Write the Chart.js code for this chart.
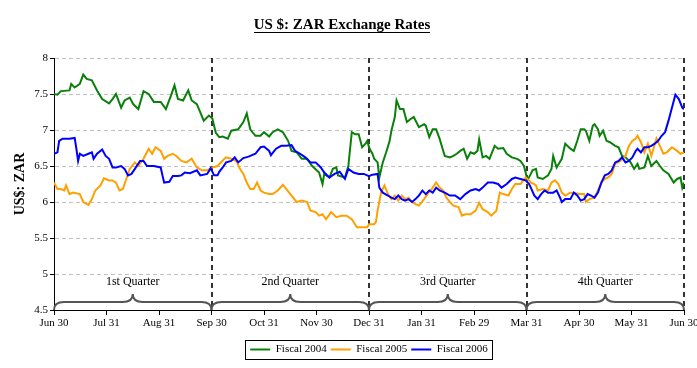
<!DOCTYPE html>
<html>
<head>
<meta charset="utf-8">
<script src="https://cdn.jsdelivr.net/npm/chart.js@4"></script>
<style>
  html, body { margin: 0; padding: 0; background: #fff; }
</style>
</head>
<body>
<canvas id="chart" width="697" height="368"></canvas>
<script>
// x positions are trading-day positions through the fiscal year (0 = Jun 30, 366 = Jun 30)
const monthTicks = [0, 30.5, 61, 91.5, 122, 152.5, 183, 213.5, 244, 274.5, 305, 335.5, 366];
const monthLabels = ['Jun 30', 'Jul 31', 'Aug 31', 'Sep 30', 'Oct 31', 'Nov 30', 'Dec 31',
  'Jan 31', 'Feb 29', 'Mar 31', 'Apr 30', 'May 31', 'Jun 30'];
const yTicks = [4.5, 5, 5.5, 6, 6.5, 7, 7.5, 8];

const quarterStart = [0, 91.5, 183, 274.5];
const quarterEnd = [91.5, 183, 274.5, 366];
const quarterLabels = ['1st Quarter', '2nd Quarter', '3rd Quarter', '4th Quarter'];

const seriesNames = ['Fiscal 2004', 'Fiscal 2005', 'Fiscal 2006'];
const seriesColors = ['#0a800a', '#ffa000', '#0000ff'];

const fy2004Day = [0, 2, 4, 9, 10, 12, 15, 17, 19, 22, 25, 28, 32, 34, 36, 39, 41, 44, 46, 49,
  52, 55, 58, 62, 65, 68, 70, 72, 75, 78, 80, 83, 87, 90, 92, 94, 96, 98, 101, 103,
  107, 110, 112, 114, 117, 120, 122, 125, 127, 130, 133, 136, 138, 141, 144, 147, 150, 154, 156, 157,
  160, 162, 164, 165, 169, 171, 173, 175, 177, 179, 181, 182, 183, 184, 185, 186, 188, 189, 191, 193,
  195, 196, 198, 199, 201, 203, 205, 207, 209, 212, 215, 216, 218, 220, 222, 224, 227, 230, 232, 234,
  236, 238, 240, 242, 244, 246, 247, 249, 251, 253, 256, 258, 261, 263, 266, 269, 271, 273, 274, 275,
  277, 278, 280, 281, 284, 287, 289, 290, 292, 295, 297, 300, 302, 304, 306, 308, 309, 311, 313, 314,
  316, 317, 319, 321, 323, 326, 328, 330, 332, 335, 337, 339, 340, 343, 345, 347, 350, 352, 354, 357,
  360, 362, 364, 365, 366];
const fy2004Rate = [7.50, 7.49, 7.54, 7.55, 7.64, 7.59, 7.64, 7.77, 7.71, 7.69, 7.55, 7.43, 7.37, 7.43, 7.50, 7.31, 7.41, 7.45, 7.36, 7.29,
  7.54, 7.50, 7.39, 7.39, 7.29, 7.48, 7.62, 7.43, 7.41, 7.55, 7.41, 7.36, 7.13, 7.20, 7.16, 6.96, 6.90, 6.91, 6.88, 6.99,
  7.01, 7.11, 7.23, 7.01, 6.92, 6.92, 6.97, 6.91, 6.97, 7.01, 6.97, 6.85, 6.71, 6.69, 6.60, 6.60, 6.50, 6.41, 6.25, 6.39,
  6.34, 6.46, 6.48, 6.37, 6.34, 6.50, 6.97, 6.94, 6.94, 6.76, 6.81, 6.85, 6.76, 6.71, 6.67, 6.60, 6.55, 6.34, 6.55, 6.69,
  6.85, 6.99, 7.18, 7.41, 7.29, 7.29, 7.11, 7.15, 7.18, 7.04, 7.08, 7.06, 6.90, 7.01, 7.01, 6.88, 6.64, 6.62, 6.64, 6.67,
  6.71, 6.74, 6.60, 6.69, 6.67, 6.71, 6.87, 6.62, 6.64, 6.60, 6.78, 6.74, 6.75, 6.67, 6.62, 6.60, 6.57, 6.50, 6.41, 6.30,
  6.39, 6.44, 6.46, 6.34, 6.32, 6.37, 6.46, 6.64, 6.48, 6.60, 6.81, 6.74, 6.71, 6.85, 7.01, 7.01, 6.99, 6.85, 7.06, 7.08,
  7.01, 6.92, 6.99, 6.85, 6.83, 6.78, 6.76, 6.64, 6.62, 6.55, 6.46, 6.53, 6.46, 6.48, 6.64, 6.50, 6.57, 6.50, 6.44, 6.39,
  6.27, 6.32, 6.34, 6.20, 6.27];

const fy2005Day = [0, 2, 4, 6, 7, 9, 11, 15, 17, 20, 22, 24, 27, 29, 32, 34, 36, 38, 40, 42,
  44, 47, 49, 52, 55, 57, 59, 62, 64, 66, 69, 71, 74, 77, 80, 83, 86, 89, 92, 95,
  99, 100, 103, 106, 108, 110, 112, 114, 116, 118, 120, 122, 125, 127, 130, 133, 135, 138, 141, 144,
  147, 149, 152, 154, 156, 158, 161, 164, 167, 170, 173, 176, 179, 182, 183, 186, 187, 188, 190, 192,
  194, 196, 198, 200, 202, 204, 206, 208, 210, 212, 215, 217, 220, 222, 224, 226, 228, 230, 232, 235,
  237, 239, 242, 245, 247, 249, 252, 254, 257, 259, 261, 264, 266, 268, 271, 274, 276, 277, 279, 280,
  281, 284, 287, 289, 291, 293, 295, 297, 300, 302, 305, 308, 309, 311, 314, 316, 318, 320, 322, 324,
  326, 329, 332, 334, 336, 338, 339, 341, 343, 345, 347, 350, 352, 354, 356, 359, 362, 364, 366];
const fy2005Rate = [6.27, 6.18, 6.18, 6.16, 6.23, 6.11, 6.13, 6.11, 6.00, 5.96, 6.04, 6.16, 6.23, 6.33, 6.30, 6.30, 6.27, 6.16, 6.18, 6.32,
  6.46, 6.55, 6.50, 6.60, 6.74, 6.67, 6.76, 6.71, 6.60, 6.64, 6.67, 6.64, 6.57, 6.55, 6.60, 6.48, 6.44, 6.44, 6.48, 6.50,
  6.60, 6.62, 6.60, 6.57, 6.46, 6.39, 6.27, 6.18, 6.18, 6.27, 6.16, 6.13, 6.11, 6.11, 6.16, 6.24, 6.18, 6.09, 6.00, 6.02,
  6.00, 5.88, 5.86, 5.81, 5.83, 5.76, 5.86, 5.79, 5.81, 5.81, 5.76, 5.65, 5.65, 5.65, 5.69, 5.69, 5.72, 5.88, 6.13, 6.23,
  6.11, 6.04, 6.09, 6.02, 6.09, 6.04, 6.06, 6.00, 5.97, 5.95, 6.04, 6.11, 6.20, 6.27, 6.20, 6.16, 6.06, 6.00, 5.95, 5.93,
  5.81, 5.83, 5.83, 5.88, 5.99, 5.90, 5.86, 5.81, 5.88, 6.13, 6.11, 6.09, 6.18, 6.25, 6.25, 6.34, 6.30, 6.27, 6.25, 6.23,
  6.16, 6.18, 6.16, 6.27, 6.30, 6.25, 6.13, 6.09, 6.13, 6.13, 6.11, 6.11, 6.00, 6.04, 6.06, 6.16, 6.27, 6.32, 6.34, 6.39,
  6.53, 6.57, 6.64, 6.78, 6.85, 6.88, 6.92, 6.83, 6.69, 6.81, 6.64, 6.88, 6.78, 6.67, 6.69, 6.76, 6.71, 6.67, 6.69];

const fy2006Day = [0, 2, 3, 5, 9, 12, 13, 14, 15, 17, 20, 22, 23, 25, 28, 30, 32, 34, 36, 39,
  41, 43, 45, 47, 50, 52, 54, 58, 62, 63, 64, 67, 69, 72, 74, 76, 79, 83, 85, 89,
  91, 93, 95, 96, 98, 100, 103, 105, 107, 110, 113, 117, 120, 122, 125, 126, 129, 132, 135, 138,
  140, 143, 146, 149, 152, 155, 157, 160, 163, 166, 169, 171, 174, 177, 180, 183, 185, 188, 189, 191,
  194, 196, 198, 200, 202, 204, 206, 208, 210, 212, 214, 216, 218, 220, 222, 224, 227, 230, 233, 236,
  239, 242, 245, 247, 249, 252, 255, 258, 260, 263, 266, 268, 271, 274, 276, 277, 279, 281, 283, 285,
  287, 290, 292, 294, 295, 297, 300, 302, 304, 306, 308, 310, 312, 314, 316, 318, 320, 322, 324, 326,
  328, 330, 332, 334, 336, 338, 339, 341, 343, 345, 347, 349, 351, 353, 355, 357, 359, 361, 363, 365,
  366];
const fy2006Rate = [6.67, 6.69, 6.85, 6.88, 6.88, 6.89, 6.74, 6.57, 6.67, 6.64, 6.67, 6.69, 6.60, 6.67, 6.73, 6.64, 6.60, 6.48, 6.48, 6.50,
  6.46, 6.37, 6.39, 6.46, 6.57, 6.57, 6.50, 6.50, 6.48, 6.37, 6.27, 6.28, 6.36, 6.36, 6.37, 6.41, 6.40, 6.44, 6.37, 6.39,
  6.47, 6.37, 6.37, 6.42, 6.48, 6.55, 6.57, 6.62, 6.55, 6.61, 6.63, 6.67, 6.76, 6.77, 6.71, 6.65, 6.74, 6.78, 6.78, 6.79,
  6.71, 6.67, 6.62, 6.55, 6.55, 6.48, 6.41, 6.34, 6.39, 6.42, 6.32, 6.46, 6.41, 6.39, 6.39, 6.36, 6.38, 6.39, 6.20, 6.13,
  6.09, 6.06, 6.04, 6.09, 6.04, 6.02, 6.04, 6.00, 6.04, 6.09, 6.16, 6.11, 6.16, 6.13, 6.20, 6.16, 6.13, 6.09, 6.09, 6.04,
  6.11, 6.16, 6.18, 6.16, 6.20, 6.27, 6.27, 6.25, 6.20, 6.25, 6.32, 6.34, 6.32, 6.30, 6.25, 6.20, 6.09, 6.04, 6.11, 6.16,
  6.13, 6.13, 6.16, 6.06, 6.00, 6.04, 6.04, 6.13, 6.09, 6.02, 6.04, 6.11, 6.09, 6.06, 6.13, 6.27, 6.37, 6.39, 6.44, 6.55,
  6.57, 6.62, 6.55, 6.57, 6.62, 6.71, 6.74, 6.69, 6.76, 6.76, 6.78, 6.81, 6.85, 6.92, 6.97, 7.13, 7.31, 7.49, 7.43, 7.31,
  7.29];

const serif = 'Liberation Serif, Times New Roman, serif';
Chart.defaults.font.family = serif;
Chart.defaults.color = '#000';

function toPoints(days, rates) {
  return days.map((d, i) => ({ x: d, y: rates[i] }));
}

const quarterPlugin = {
  id: 'quarters',
  beforeDatasetsDraw(chart) {
    const { ctx, chartArea: area, scales: { x } } = chart;
    ctx.save();

    // dashed quarter dividers
    ctx.strokeStyle = '#333';
    ctx.lineWidth = 2;
    ctx.setLineDash([5, 4]);
    quarterEnd.forEach(d => {
      const px = Math.round(x.getPixelForValue(d));
      ctx.beginPath();
      ctx.moveTo(px, area.top);
      ctx.lineTo(px, area.bottom);
      ctx.stroke();
    });
    ctx.setLineDash([]);

    // curly braces under each quarter
    const yb = area.bottom;
    ctx.strokeStyle = '#555';
    ctx.lineWidth = 2;
    quarterStart.forEach((d, i) => {
      const xa = x.getPixelForValue(d);
      const xe = x.getPixelForValue(quarterEnd[i]);
      const mid = (xa + xe) / 2;
      ctx.beginPath();
      ctx.moveTo(xa, yb);
      ctx.quadraticCurveTo(xa, yb - 8, xa + 10, yb - 8);
      ctx.lineTo(mid - 10, yb - 8);
      ctx.quadraticCurveTo(mid, yb - 8, mid, yb - 16);
      ctx.quadraticCurveTo(mid, yb - 8, mid + 10, yb - 8);
      ctx.lineTo(xe - 10, yb - 8);
      ctx.quadraticCurveTo(xe, yb - 8, xe, yb);
      ctx.stroke();

      ctx.fillStyle = '#000';
      ctx.font = '12px ' + serif;
      ctx.textAlign = 'center';
      ctx.textBaseline = 'middle';
      ctx.fillText(quarterLabels[i], mid, yb - 28);
    });
    ctx.restore();
  },
  afterDraw(chart) {
    const ctx = chart.ctx;
    ctx.save();

    // underline the title
    const tb = chart.titleBlock;
    if (tb) {
      const opts = tb.options;
      ctx.font = 'bold ' + opts.font.size + 'px ' + serif;
      const w = ctx.measureText(opts.text).width;
      const cx = (tb.left + tb.right) / 2;
      const cy = tb.top + opts.padding.top + opts.font.size * 1.2 / 2;
      ctx.strokeStyle = '#000';
      ctx.lineWidth = 1;
      ctx.beginPath();
      ctx.moveTo(Math.round(cx - w / 2), Math.round(cy + 7) + 0.5);
      ctx.lineTo(Math.round(cx + w / 2), Math.round(cy + 7) + 0.5);
      ctx.stroke();
    }

    // frame around the legend
    const boxes = chart.legend && chart.legend.legendHitBoxes;
    if (boxes && boxes.length) {
      const left = Math.min(...boxes.map(b => b.left));
      const right = Math.max(...boxes.map(b => b.left + b.width));
      const top = Math.min(...boxes.map(b => b.top));
      const bottom = Math.max(...boxes.map(b => b.top + b.height));
      ctx.strokeStyle = '#000';
      ctx.lineWidth = 1;
      ctx.strokeRect(Math.round(left - 5) + 0.5, Math.round(top - 4) + 0.5,
        Math.round(right - left + 9), Math.round(bottom - top + 8));
    }
    ctx.restore();
  }
};

const ctx = document.getElementById('chart').getContext('2d');

const seriesData = [
  toPoints(fy2004Day, fy2004Rate),
  toPoints(fy2005Day, fy2005Rate),
  toPoints(fy2006Day, fy2006Rate)
];

new Chart(ctx, {
  type: 'line',
  data: {
    // later fiscal years are drawn on top, as in the original
    datasets: seriesNames.map((name, i) => ({
      label: name,
      data: seriesData[i],
      borderColor: seriesColors[i],
      backgroundColor: seriesColors[i],
      borderWidth: 2,
      order: 2 - i
    }))
  },
  options: {
    responsive: false,
    animation: false,
    elements: {
      line: { tension: 0 },
      point: { radius: 0 }
    },
    layout: { padding: { left: 0, right: 13, top: 0, bottom: 3 } },
    plugins: {
      title: {
        display: true,
        text: 'US $: ZAR Exchange Rates',
        color: '#000',
        font: { size: 15, weight: 'bold' },
        padding: { top: 16, bottom: 24 }
      },
      legend: {
        position: 'bottom',
        fullSize: false,
        labels: {
          usePointStyle: true,
          pointStyle: 'line',
          pointStyleWidth: 20,
          boxHeight: 11,
          padding: 4,
          color: '#000',
          font: { size: 11 },
          generateLabels: chart => chart.data.datasets.map((ds, i) => ({
            text: ds.label,
            fillStyle: ds.borderColor,
            strokeStyle: ds.borderColor,
            fontColor: '#000',
            lineWidth: 2,
            pointStyle: 'line',
            hidden: false,
            datasetIndex: i
          }))
        }
      },
      tooltip: { enabled: false }
    },
    scales: {
      x: {
        type: 'linear',
        min: 0,
        max: 366,
        afterBuildTicks: s => { s.ticks = monthTicks.map(v => ({ value: v })); },
        afterFit: s => { s.height = 30; s.paddingLeft = 0; s.paddingRight = 0; },
        ticks: {
          autoSkip: false,
          maxRotation: 0,
          padding: 2,
          font: { size: 11 },
          callback: (v, i) => monthLabels[i]
        },
        grid: { drawOnChartArea: false, tickLength: 5, tickColor: '#000' },
        border: { color: '#000', width: 1 }
      },
      y: {
        min: 4.5,
        max: 8,
        afterBuildTicks: s => { s.ticks = yTicks.map(v => ({ value: v })); },
        afterFit: s => { s.width = 54; s.paddingTop = 0; s.paddingBottom = 0; },
        ticks: { padding: 2, font: { size: 11 }, callback: v => String(v) },
        grid: {
          color: c => (c.tick && c.tick.value === 4.5) ? 'rgba(0,0,0,0)' : '#c0c0c0',
          tickColor: '#000',
          tickLength: 4
        },
        border: { color: '#000', width: 1, dash: [4, 3] },
        title: {
          display: true,
          text: 'US$: ZAR',
          color: '#000',
          font: { size: 14, weight: 'bold' },
          padding: { top: 12, bottom: 0 }
        }
      }
    }
  },
  plugins: [quarterPlugin]
});
</script>
</body>
</html>
